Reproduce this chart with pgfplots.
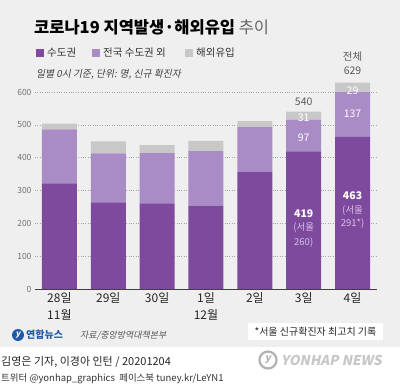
\documentclass[border=0pt]{standalone}
\usepackage{fontspec}
\setmainfont{Noto Sans CJK KR}
\newfontfamily\itfont{Noto Sans CJK KR}[FakeSlant=0.2]
\usepackage{pgfplots}
\pgfplotsset{compat=1.18}
\definecolor{dp}{RGB}{126,74,158}
\definecolor{lp}{RGB}{169,139,198}
\definecolor{gr}{RGB}{200,200,200}
\definecolor{bg}{RGB}{239,239,239}
\definecolor{ylblue}{RGB}{30,90,170}
\definecolor{lav}{RGB}{215,195,232}
\begin{document}
\begin{tikzpicture}[x=1pt,y=1pt]
\useasboundingbox (0pt,0pt) rectangle (400pt,386pt);
\fill[bg] (0pt,39pt) rectangle (400pt,386pt);
\fill[white] (0pt,0pt) rectangle (400pt,39pt);
% title
\node[anchor=base west, inner sep=0, font=\fontsize{16.5}{18}\selectfont] at (34pt,352pt) {\textbf{코로나19 지역발생·해외유입} \textcolor{black!60}{추이}};
% legend
\fill[dp] (36pt,329pt) rectangle (44pt,337pt);
\node[anchor=base west, inner sep=0, font=\fontsize{10.5}{12}\selectfont, text=black!80] at (47pt,329pt) {수도권};
\fill[lp] (92pt,329pt) rectangle (100pt,337pt);
\node[anchor=base west, inner sep=0, font=\fontsize{10.5}{12}\selectfont, text=black!80] at (103pt,329pt) {전국 수도권 외};
\fill[gr] (185pt,329pt) rectangle (193pt,337pt);
\node[anchor=base west, inner sep=0, font=\fontsize{10.5}{12}\selectfont, text=black!80] at (196pt,329pt) {해외유입};
% subtitle
\node[anchor=base west, inner sep=0, font=\itfont\fontsize{9.8}{12}\selectfont, text=black!75] at (36pt,308pt) {일별 0시 기준, 단위: 명, 신규 확진자};
\begin{axis}[at={(35pt,97pt)}, anchor=south west, scale only axis, width=342pt, height=213.4pt,
 ybar stacked, bar width=35pt, xmin=-0.5, xmax=6.5, ymin=0, ymax=650,
 axis x line*=bottom, axis y line*=left, y axis line style={draw=none},
 x axis line style={draw=black!75, line width=0.9pt},
 ytick={0,100,...,600}, ymajorgrids, grid style={dotted, black!35},
 major tick length=0, xtick={0,...,6},
 xticklabels={{28일\\11월},29일,30일,{1일\\12월},2일,3일,4일},
 xticklabel style={align=center, font=\fontsize{12}{17}\selectfont, text=black!85},
 yticklabel style={font=\fontsize{8.5}{10}\selectfont, text=black!55},
 /pgf/number format/assume math mode=true,
 clip=false, every axis plot/.append style={draw=none}]
\addplot[fill=dp, draw=none] coordinates {(0,322) (1,264) (2,261) (3,254) (4,356) (5,419) (6,463)};
\addplot[fill=lp, draw=none] coordinates {(0,164) (1,149) (2,153) (3,166) (4,137) (5,97) (6,137)};
\addplot[fill=gr, draw=none] coordinates {(0,18) (1,37) (2,24) (3,31) (4,18) (5,24) (6,29)};
\coordinate (t540) at (axis cs:5,570);
\coordinate (t31) at (axis cs:5,521);
\coordinate (t97) at (axis cs:5,460);
\coordinate (t419) at (axis cs:5,228);
\coordinate (s3a) at (axis cs:5,186);
\coordinate (s3b) at (axis cs:5,143);
\coordinate (tall) at (axis cs:6,707);
\coordinate (t629) at (axis cs:6,664);
\coordinate (t29) at (axis cs:6,603);
\coordinate (t137) at (axis cs:6,533);
\coordinate (t463) at (axis cs:6,283);
\coordinate (s4a) at (axis cs:6,238);
\coordinate (s4b) at (axis cs:6,198);
\end{axis}
% bar labels
\node[font=\fontsize{10.5}{12}\selectfont, text=black!65] at (t540) {540};
\node[font=\fontsize{10.5}{12}\selectfont, text=white] at (t31) {31};
\node[font=\fontsize{10.5}{12}\selectfont, text=white] at (t97) {97};
\node[font=\bfseries\fontsize{10.5}{12}\selectfont, text=white] at (t419) {419};
\node[font=\fontsize{9.5}{11}\selectfont, text=lav] at (s3a) {(서울};
\node[font=\fontsize{9.5}{11}\selectfont, text=lav] at (s3b) {260)};
\node[font=\fontsize{10.5}{12}\selectfont, text=black!65] at (tall) {전체};
\node[font=\fontsize{10.5}{12}\selectfont, text=black!65] at (t629) {629};
\node[font=\fontsize{10.5}{12}\selectfont, text=white] at (t29) {29};
\node[font=\fontsize{10.5}{12}\selectfont, text=white] at (t137) {137};
\node[font=\bfseries\fontsize{10.5}{12}\selectfont, text=white] at (t463) {463};
\node[font=\fontsize{9.5}{11}\selectfont, text=lav] at (s4a) {(서울};
\node[font=\fontsize{9.5}{11}\selectfont, text=lav] at (s4b) {291*)};
% footer
\fill[ylblue] (18pt,51pt) circle (6pt);
\node[font=\itfont\bfseries\fontsize{8}{9}\selectfont, text=white] at (18pt,51pt) {y};
\node[anchor=base west, inner sep=0, font=\bfseries\fontsize{10}{12}\selectfont, text=ylblue] at (26pt,47pt) {연합뉴스};
\node[anchor=base west, inner sep=0, font=\itfont\fontsize{9}{11}\selectfont, text=black!65] at (80pt,47pt) {자료/중앙방역대책본부};
\fill[white] (248pt,46pt) rectangle (383pt,63pt);
\node[font=\fontsize{10}{12}\selectfont, text=black!85] at (315.5pt,54.5pt) {*서울 신규확진자 최고치 기록};
\node[anchor=base west, inner sep=0, font=\fontsize{11}{13}\selectfont, text=black!85] at (1pt,20pt) {김영은 기자, 이경아 인턴 / 20201204};
\node[anchor=base west, inner sep=0, font=\fontsize{9.5}{11}\selectfont, text=black!80] at (1pt,4pt) {트위터 @yonhap\_graphics\ \ 페이스북 tuney.kr/LeYN1};
\draw[black!30, line width=2.2pt] (268pt,26pt) circle (8.5pt);
\node[font=\itfont\bfseries\fontsize{10}{11}\selectfont, text=black!30] at (268pt,26pt) {y};
\node[anchor=west, inner sep=0, font=\itfont\bfseries\fontsize{13.5}{15}\selectfont, text=black!22] at (281pt,26pt) {YONHAP NEWS};
\end{tikzpicture}
\end{document}
